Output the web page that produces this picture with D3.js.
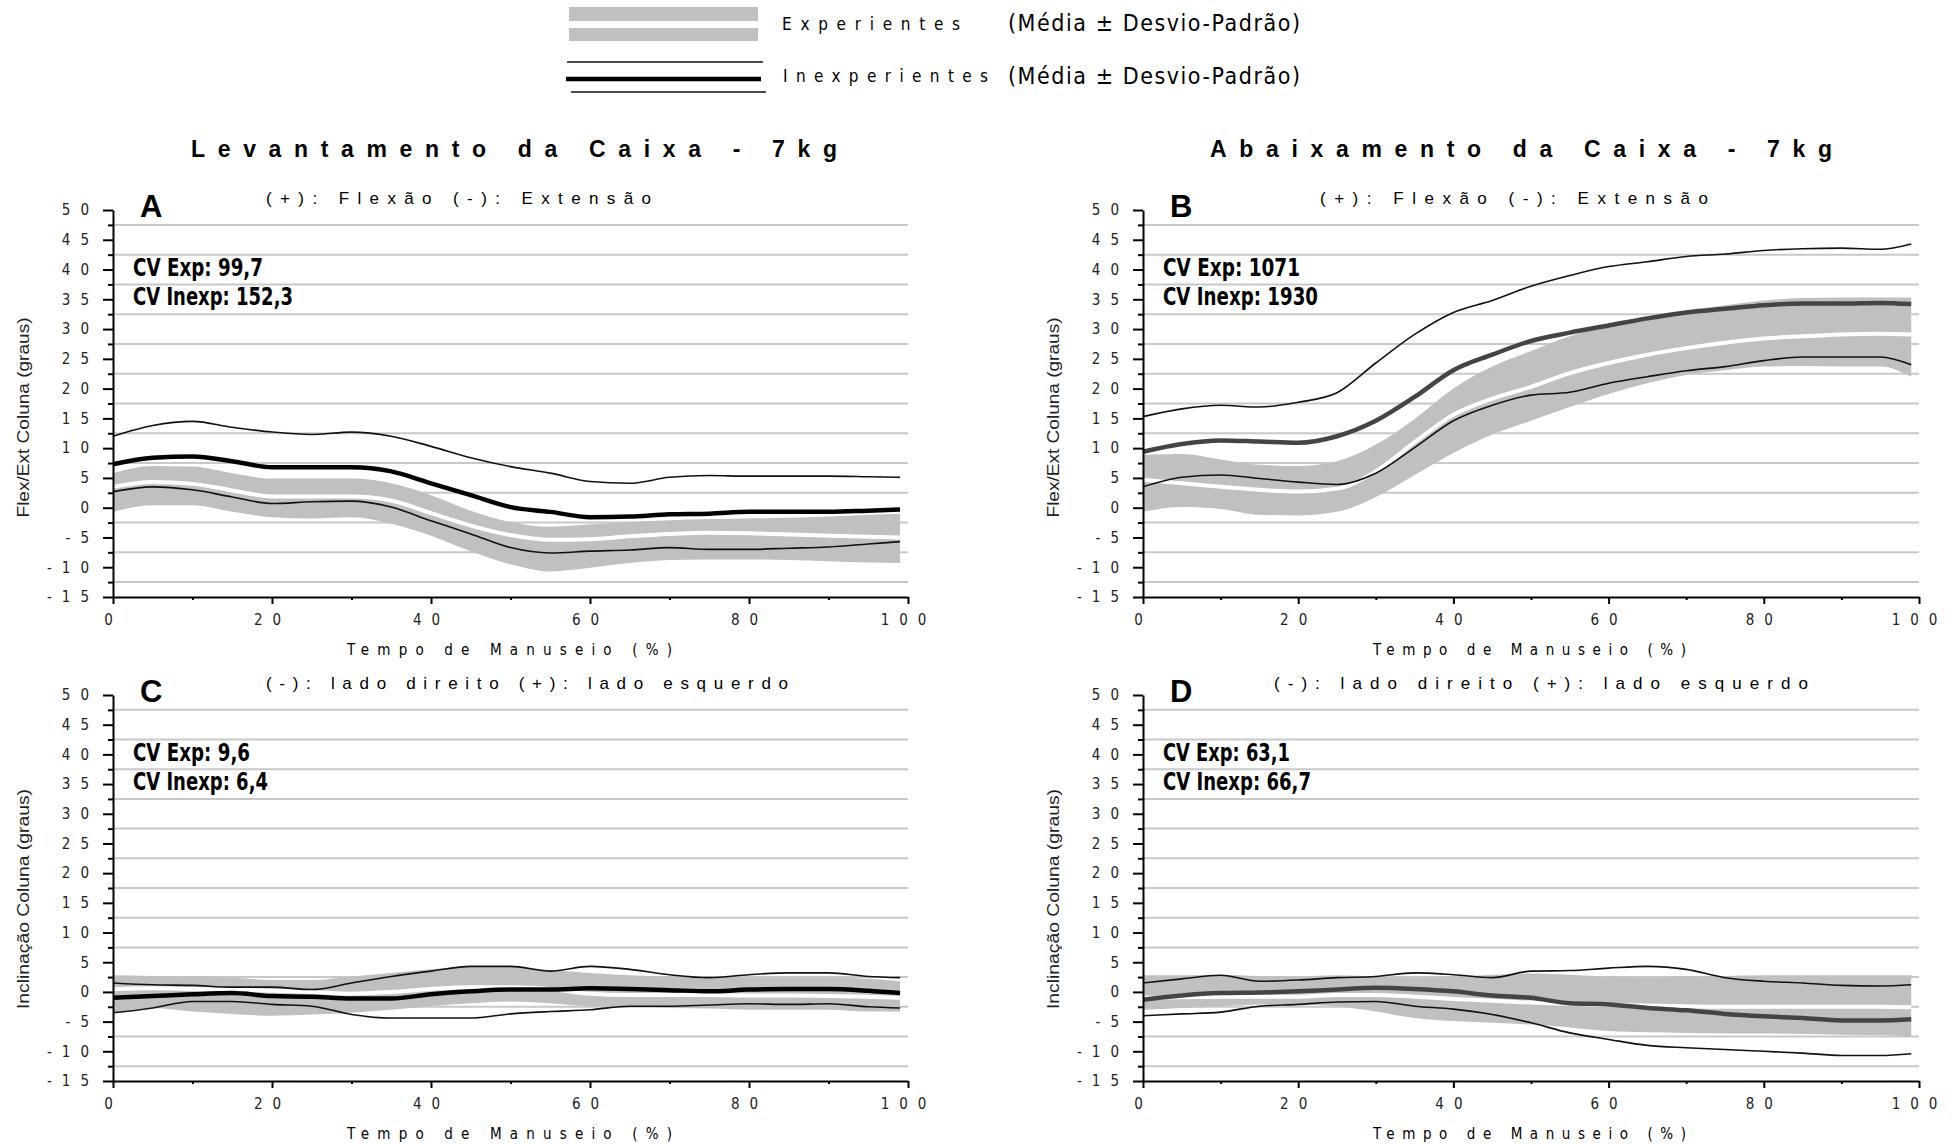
<!DOCTYPE html>
<html>
<head>
<meta charset="utf-8">
<script src="https://cdn.jsdelivr.net/npm/d3@7"></script>
<style>
  body { margin: 0; background: #fff; }
  svg { display: block; }
</style>
</head>
<body>
<div id="chart"></div>
<script>
// x values (% of handling time)
const xPct = [0, 5, 10, 15, 20, 25, 30, 35, 40, 45, 50, 55, 60, 65, 70, 75, 80, 85, 90, 95, 99];
const xTicks = [0, 20, 40, 60, 80, 100];
const xMinor = [10, 30, 50, 70, 90];
const yTicks = [-15, -10, -5, 0, 5, 10, 15, 20, 25, 30, 35, 40, 45, 50];
const yMinor = [-12.5, -7.5, -2.5, 2.5, 7.5, 12.5, 17.5, 22.5, 27.5, 32.5, 37.5, 42.5, 47.5];

// A - levantamento, flexao/extensao
const aInexpUp   = [12.0, 13.8, 14.5, 13.5, 12.7, 12.3, 12.7, 12.0, 10.3, 8.4, 6.9, 5.8, 4.4, 4.1, 5.1, 5.4, 5.3, 5.3, 5.3, 5.2, 5.1];
const aInexpMean = [7.3, 8.4, 8.6, 7.8, 6.8, 6.8, 6.8, 6.1, 4.1, 2.1, 0.1, -0.7, -1.6, -1.5, -1.1, -1.0, -0.7, -0.7, -0.7, -0.5, -0.3];
const aInexpLow  = [2.7, 3.5, 3.0, 1.8, 0.7, 1.0, 1.1, 0.1, -2.2, -4.4, -6.7, -7.6, -7.3, -7.1, -6.7, -7.0, -7.0, -6.8, -6.6, -6.1, -5.7];
const aExpUp     = [5.8, 7.0, 6.9, 5.8, 4.9, 4.9, 4.9, 4.1, 2.1, -0.5, -2.4, -3.2, -2.8, -2.4, -2.1, -1.9, -1.8, -1.7, -1.5, -1.2, -1.0];
const aExpMean   = [3.5, 4.3, 4.0, 2.9, 1.9, 1.9, 1.9, 1.2, -0.9, -3.0, -4.6, -5.4, -5.3, -4.8, -4.4, -4.2, -4.3, -4.5, -4.7, -4.9, -5.0];
const aExpLow    = [-0.7, 0.4, 0.4, -0.7, -1.6, -1.8, -1.6, -2.7, -4.7, -7.3, -9.5, -10.7, -10.1, -9.3, -8.8, -8.7, -8.7, -8.8, -9.0, -9.2, -9.3];

// B - abaixamento, flexao/extensao
const bInexpUp   = [15.3, 16.6, 17.2, 16.9, 17.7, 19.3, 24.3, 29.1, 32.8, 34.8, 37.2, 39.0, 40.5, 41.3, 42.2, 42.6, 43.2, 43.5, 43.6, 43.4, 44.3];
const bInexpMean = [9.4, 10.7, 11.3, 11.1, 10.9, 12.0, 14.6, 18.6, 23.1, 25.7, 28.0, 29.4, 30.6, 31.8, 32.8, 33.4, 34.0, 34.3, 34.3, 34.4, 34.2];
const bInexpLow  = [3.5, 5.1, 5.5, 4.9, 4.3, 3.9, 5.8, 10.1, 14.6, 17.2, 18.9, 19.4, 20.9, 22.0, 23.0, 23.7, 24.7, 25.3, 25.3, 25.3, 24.0];
const bExpUp     = [8.9, 9.0, 8.1, 7.2, 7.0, 7.8, 10.6, 14.9, 20.0, 23.7, 26.3, 28.8, 30.5, 31.6, 33.1, 34.0, 34.8, 35.2, 35.3, 35.3, 35.3];
const bExpMean   = [4.7, 4.1, 3.5, 3.0, 2.7, 3.2, 6.1, 11.0, 15.6, 18.3, 20.3, 22.6, 24.3, 25.7, 26.8, 27.7, 28.4, 28.8, 29.1, 29.2, 29.1];
const bExpLow    = [-0.7, 0.1, -0.2, -1.2, -1.3, -0.7, 1.8, 5.5, 9.2, 12.3, 14.6, 16.9, 19.1, 20.9, 22.3, 23.1, 23.7, 23.8, 23.7, 23.7, 22.0];

// C - levantamento, inclinacao lateral
const cInexpUp   = [1.5, 1.2, 1.1, 0.8, 0.8, 0.4, 1.5, 2.6, 3.5, 4.3, 4.3, 3.5, 4.3, 3.8, 2.9, 2.4, 2.9, 3.2, 3.2, 2.6, 2.4];
const cInexpMean = [-1.0, -0.7, -0.4, -0.2, -0.7, -0.8, -1.1, -1.1, -0.4, 0.1, 0.4, 0.4, 0.6, 0.5, 0.3, 0.1, 0.4, 0.5, 0.5, 0.2, -0.2];
const cInexpLow  = [-3.5, -2.7, -1.6, -1.6, -2.1, -2.4, -3.8, -4.4, -4.4, -4.4, -3.7, -3.3, -3.0, -2.4, -2.4, -2.2, -2.0, -2.1, -2.0, -2.5, -2.7];
const cExpUp     = [2.8, 2.7, 2.6, 2.4, 2.0, 2.0, 2.6, 3.2, 3.8, 4.3, 4.3, 3.7, 3.2, 2.8, 2.6, 2.5, 2.4, 2.4, 2.4, 2.2, 1.8];
const cExpMean   = [0.5, 0.6, 0.5, 0.4, 0.2, 0.0, -0.3, 0.0, 0.5, 0.8, 0.8, 0.5, -0.3, -0.5, -0.5, -0.5, -0.6, -0.6, -0.7, -0.8, -1.0];
const cExpLow    = [-3.5, -2.7, -3.3, -3.7, -4.0, -3.8, -3.5, -3.0, -2.4, -1.9, -1.6, -1.9, -2.4, -2.4, -2.7, -2.8, -3.0, -3.0, -3.0, -3.3, -3.3];

// D - abaixamento, inclinacao lateral
const dInexpUp   = [1.5, 2.2, 2.8, 1.8, 2.0, 2.4, 2.6, 3.2, 2.9, 2.4, 3.5, 3.6, 4.0, 4.3, 3.8, 2.4, 1.8, 1.5, 1.1, 1.0, 1.2];
const dInexpMean = [-1.3, -0.6, -0.2, -0.1, 0.1, 0.4, 0.7, 0.5, 0.1, -0.6, -1.0, -1.9, -2.1, -2.7, -3.1, -3.7, -4.1, -4.4, -4.8, -4.8, -4.6];
const dInexpLow  = [-4.0, -3.7, -3.4, -2.4, -2.1, -1.7, -1.6, -2.4, -2.9, -3.8, -5.2, -6.9, -8.0, -9.0, -9.4, -9.7, -10.0, -10.3, -10.7, -10.7, -10.4];
const dExpUp     = [2.8, 2.8, 2.9, 2.7, 2.6, 2.8, 2.6, 2.4, 2.6, 2.9, 3.1, 2.9, 2.6, 2.4, 2.6, 2.7, 2.8, 2.8, 2.8, 2.8, 2.8];
const dExpMean   = [-1.0, -0.9, -0.8, -0.8, -0.8, -0.5, -0.5, -0.8, -1.2, -1.5, -1.8, -2.0, -2.2, -2.3, -2.4, -2.5, -2.5, -2.5, -2.5, -2.5, -2.6];
const dExpLow    = [-3.0, -2.7, -2.4, -2.1, -2.1, -2.4, -3.3, -4.4, -4.9, -5.2, -5.5, -6.0, -6.6, -6.8, -6.9, -7.0, -7.0, -7.1, -7.2, -7.3, -7.5];

const narrow = "'Liberation Sans Narrow', 'DejaVu Sans Condensed', 'Arial Narrow', sans-serif";
const plain = "'Liberation Sans', Arial, sans-serif";

const svg = d3.select('#chart')
    .append('svg')
    .attr('width', 1957)
    .attr('height', 1144);

// legend
const lg = svg.append('g');
lg.append('rect').attr('x', 569).attr('y', 7).attr('width', 189).attr('height', 14).attr('fill', '#c0c0c0');
lg.append('rect').attr('x', 569).attr('y', 28).attr('width', 189).attr('height', 13).attr('fill', '#c0c0c0');
lg.append('line').attr('x1', 567).attr('x2', 763).attr('y1', 62).attr('y2', 62).attr('stroke', '#111').attr('stroke-width', 1.6);
lg.append('line').attr('x1', 566).attr('x2', 761).attr('y1', 79).attr('y2', 79).attr('stroke', '#000').attr('stroke-width', 4.5);
lg.append('line').attr('x1', 571).attr('x2', 766).attr('y1', 92).attr('y2', 92).attr('stroke', '#111').attr('stroke-width', 1.6);

function spacedText(g, txt, x, y, len, size, family, weight) {
    return g.append('text')
        .attr('x', x)
        .attr('y', y)
        .attr('textLength', len)
        .attr('lengthAdjust', 'spacing')
        .style('font-family', family)
        .style('font-size', size + 'px')
        .style('font-weight', weight || 'normal')
        .attr('fill', '#000')
        .text(txt);
}

spacedText(lg, 'Experientes', 782, 30, 178, 17, narrow);
spacedText(lg, 'Inexperientes', 783, 82, 205, 17, narrow);
spacedText(lg, '(Média ± Desvio-Padrão)', 1008, 31, 292, 23, narrow);
spacedText(lg, '(Média ± Desvio-Padrão)', 1008, 84, 292, 23, narrow);

// titles
spacedText(svg, 'Levantamento da Caixa - 7kg', 191, 157, 646, 23, plain, 'bold');
spacedText(svg, 'Abaixamento da Caixa - 7kg', 1210, 157, 622, 23, plain, 'bold');

const panels = [
    { letter: 'A', sub: '(+): Flexão (-): Extensão', ylabel: 'Flex/Ext Coluna (graus)', cv: ['CV Exp: 99,7', 'CV Inexp: 152,3'],
      inexp: [aInexpUp, aInexpMean, aInexpLow], exp: [aExpUp, aExpMean, aExpLow], mean: '#000',
      left: 113, right: 908, top: 210, bottom: 597, subX: 266, subW: 385, cvW: [130, 160], ylW: 200, ylDy: 14, xlX: 347, xlW: 325 },
    { letter: 'B', sub: '(+): Flexão (-): Extensão', ylabel: 'Flex/Ext Coluna (graus)', cv: ['CV Exp: 1071', 'CV Inexp: 1930'],
      inexp: [bInexpUp, bInexpMean, bInexpLow], exp: [bExpUp, bExpMean, bExpLow], mean: '#444',
      left: 1143, right: 1919, top: 210, bottom: 597, subX: 1320, subW: 388, cvW: [137, 155], ylW: 200, ylDy: 14, xlX: 1373, xlW: 313 },
    { letter: 'C', sub: '(-): lado direito (+): lado esquerdo', ylabel: 'Inclinação Coluna (graus)', cv: ['CV Exp: 9,6', 'CV Inexp: 6,4'],
      inexp: [cInexpUp, cInexpMean, cInexpLow], exp: [cExpUp, cExpMean, cExpLow], mean: '#000',
      left: 113, right: 908, top: 695, bottom: 1081, subX: 266, subW: 522, cvW: [117, 135], ylW: 220, ylDy: 11, xlX: 347, xlW: 325 },
    { letter: 'D', sub: '(-): lado direito (+): lado esquerdo', ylabel: 'Inclinação Coluna (graus)', cv: ['CV Exp: 63,1', 'CV Inexp: 66,7'],
      inexp: [dInexpUp, dInexpMean, dInexpLow], exp: [dExpUp, dExpMean, dExpLow], mean: '#444',
      left: 1143, right: 1919, top: 695, bottom: 1081, subX: 1274, subW: 534, cvW: [127, 148], ylW: 220, ylDy: 11, xlX: 1373, xlW: 313 }
];

panels.forEach(p => {
    const x = d3.scaleLinear().domain([0, 100]).range([p.left, p.right]);
    const y = d3.scaleLinear().domain([-15, 50]).range([p.bottom, p.top]);
    const g = svg.append('g');

    // grid
    g.selectAll('.grid')
        .data(yMinor)
        .join('line')
        .attr('x1', p.left)
        .attr('x2', p.right)
        .attr('y1', d => y(d))
        .attr('y2', d => y(d))
        .attr('stroke', '#c8c8c8')
        .attr('stroke-width', 2);

    const band = d3.area()
        .x((d, i) => x(xPct[i]))
        .y0((d, i) => y(p.exp[2][i]))
        .y1(d => y(d))
        .curve(d3.curveMonotoneX);
    const line = d3.line()
        .x((d, i) => x(xPct[i]))
        .y(d => y(d))
        .curve(d3.curveMonotoneX);

    g.append('path').attr('d', band(p.exp[0])).attr('fill', '#c0c0c0');
    g.append('path').attr('d', line(p.exp[1])).attr('fill', 'none').attr('stroke', '#fff').attr('stroke-width', 4);

    g.append('path').attr('d', line(p.inexp[0])).attr('fill', 'none').attr('stroke', '#111').attr('stroke-width', 1.6);
    g.append('path').attr('d', line(p.inexp[2])).attr('fill', 'none').attr('stroke', '#111').attr('stroke-width', 1.6);
    g.append('path').attr('d', line(p.inexp[1])).attr('fill', 'none').attr('stroke', p.mean).attr('stroke-width', 4.5);

    // axes
    const yAxis = g.append('g')
        .attr('transform', `translate(${p.left},0)`)
        .call(d3.axisLeft(y).tickValues(yTicks).tickSize(10).tickSizeOuter(0).tickPadding(8).tickFormat(d => d));
    g.append('g')
        .attr('transform', `translate(${p.left},0)`)
        .call(d3.axisLeft(y).tickValues(yMinor).tickSize(5).tickSizeOuter(0).tickFormat(''))
        .select('.domain').remove();
    const xAxis = g.append('g')
        .attr('transform', `translate(0,${p.bottom})`)
        .call(d3.axisBottom(x).tickValues(xTicks).tickSize(7).tickSizeOuter(0).tickPadding(10));
    g.append('g')
        .attr('transform', `translate(0,${p.bottom})`)
        .call(d3.axisBottom(x).tickValues(xMinor).tickSize(3).tickSizeOuter(0).tickFormat(''))
        .select('.domain').remove();

    g.selectAll('.domain').attr('stroke', '#000').attr('stroke-width', 2);
    g.selectAll('.tick line').attr('stroke', '#000').attr('stroke-width', 2);
    g.selectAll('.tick text')
        .style('font-family', narrow)
        .style('font-size', '15px')
        .style('letter-spacing', '10px')
        .attr('fill', '#222');
    yAxis.selectAll('.tick text').attr('dx', 4);
    xAxis.selectAll('.tick text').attr('dx', 0);

    // texts
    g.append('text')
        .attr('x', p.left + 27)
        .attr('y', p.top + 7)
        .style('font-family', plain)
        .style('font-weight', 'bold')
        .style('font-size', '31px')
        .text(p.letter);

    spacedText(g, p.sub, p.subX, p.top - 6, p.subW, 17, plain);

    p.cv.forEach((t, i) => {
        g.append('text')
            .attr('x', p.left + 20)
            .attr('y', p.top + 66 + i * 29)
            .attr('textLength', p.cvW[i])
            .attr('lengthAdjust', 'spacingAndGlyphs')
            .style('font-family', narrow)
            .style('font-weight', 'bold')
            .style('font-size', '25px')
            .text(t);
    });

    g.append('text')
        .attr('transform', `translate(${p.left - 84},${(p.top + p.bottom) / 2 + p.ylDy}) rotate(-90)`)
        .attr('text-anchor', 'middle')
        .attr('textLength', p.ylW)
        .attr('lengthAdjust', 'spacingAndGlyphs')
        .style('font-family', plain)
        .style('font-size', '16px')
        .attr('fill', '#222')
        .text(p.ylabel);

    spacedText(g, 'Tempo de Manuseio (%)', p.xlX, p.bottom + 58, p.xlW, 15, narrow);
});
</script>
</body>
</html>
